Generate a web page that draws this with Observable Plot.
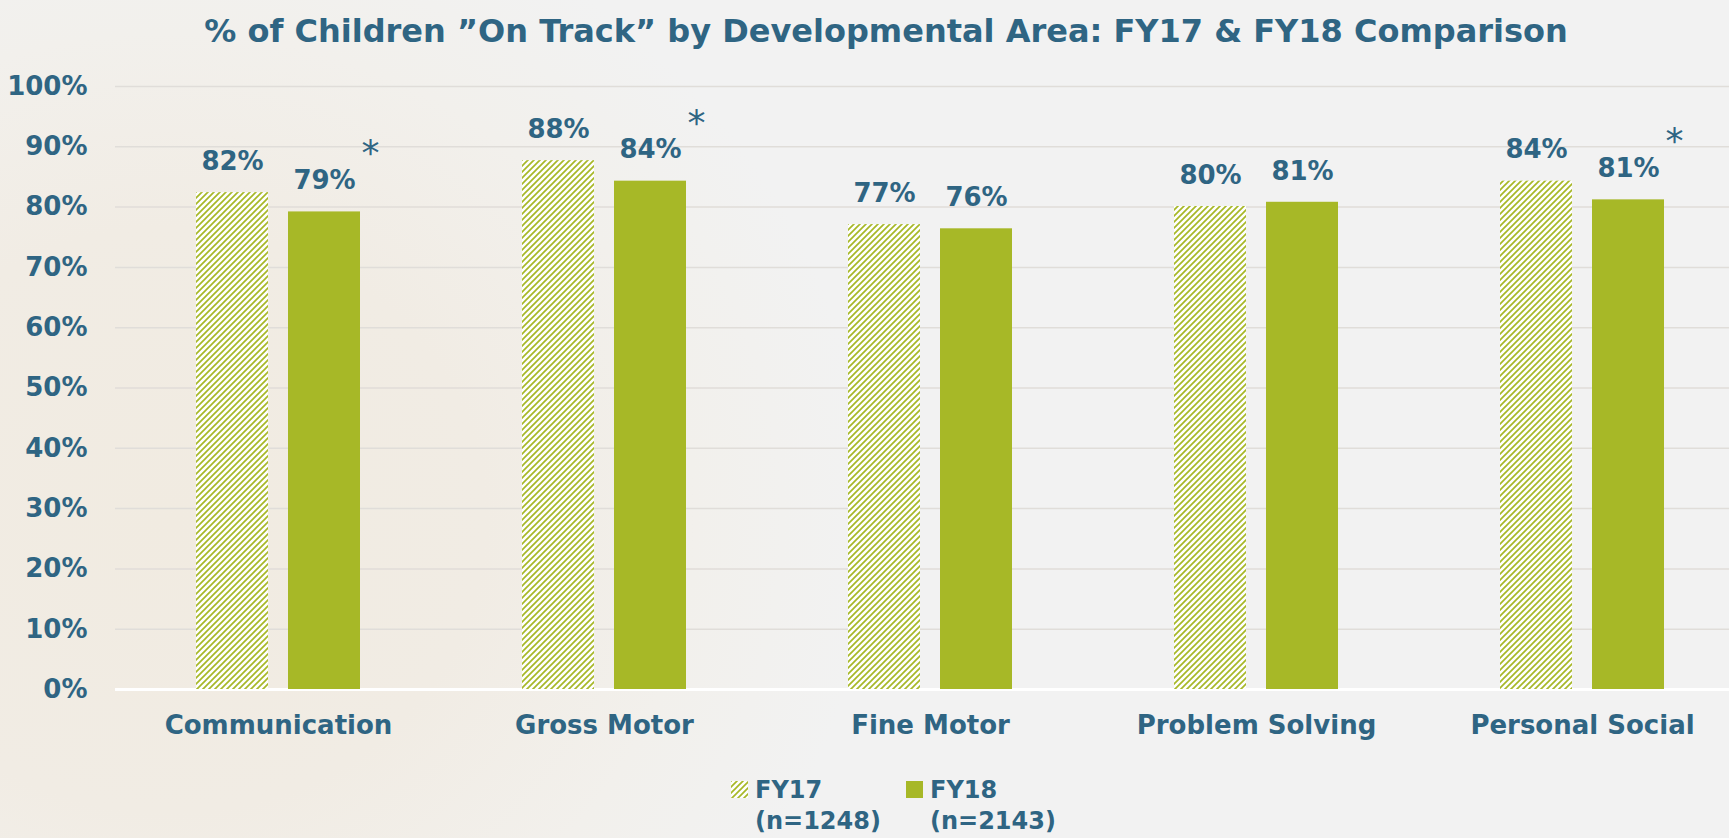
<!DOCTYPE html>
<html>
<head>
<meta charset="utf-8">
<script src="https://cdn.jsdelivr.net/npm/d3@7"></script>
<script src="https://cdn.jsdelivr.net/npm/@observablehq/plot@0.6"></script>
<style>
  html, body { margin: 0; padding: 0; }
  body {
    width: 1729px; height: 838px; overflow: hidden; position: relative;
    background: radial-gradient(ellipse 700px 650px at 170px 520px, #f1ebe1 0%, #f1ece4 45%, #f2f0ec 75%, #f2f2f2 100%);
    background-color: #f2f2f2;
    font-family: "DejaVu Sans", sans-serif;
    color: #2f6583;
  }
  #title {
    position: absolute; top: 0; left: 0; width: 1729px; height: 62px;
    box-sizing: border-box; padding-left: 43px;
    text-align: center; line-height: 62px; font-size: 32px; font-weight: bold;
  }
  #chart { position: absolute; top: 62px; left: 0; }
  .leg { position: absolute; top: 775px; font-size: 24px; font-weight: bold; line-height: 31px; }
  .sw { position: absolute; top: 781px; width: 17px; height: 17px; }
</style>
</head>
<body>
<div id="title"></div>
<div id="chart"></div>
<div id="legend"></div>
<script>
const categories = ["Communication", "Gross Motor", "Fine Motor", "Problem Solving", "Personal Social"];
const fy17Values = [82.4, 87.7, 77.1, 80.1, 84.3];
const fy18Values = [79.2, 84.3, 76.4, 80.8, 81.2];
const fy18Significant = [true, true, false, false, true];
const yTicks = [0, 10, 20, 30, 40, 50, 60, 70, 80, 90, 100];
const seriesNames = ["FY17", "FY18"];
const sampleSizes = [1248, 2143];
const titleText = "% of Children \u201DOn Track\u201D by Developmental Area: FY17 & FY18 Comparison";

const teal = "#2f6583";
const green = "#a7b827";

document.getElementById("title").textContent = titleText;

const d17 = categories.map((c, i) => ({category: c, value: fy17Values[i]}));
const d18 = categories.map((c, i) => ({category: c, value: fy18Values[i], sig: fy18Significant[i]}));

const patternDef = `<pattern id="fy17stripes" patternUnits="userSpaceOnUse" width="6" height="6">
  <rect width="6" height="6" fill="#ffffff"/>
  <path d="M-1,1 l2,-2 M0,6 l6,-6 M5,7 l2,-2" stroke="${green}" stroke-width="1.7"/>
</pattern>`;

const plot = Plot.plot({
  width: 1729,
  height: 708,
  marginTop: 24,
  marginBottom: 81,
  marginLeft: 115,
  marginRight: 0,
  style: {background: "transparent", fontFamily: "DejaVu Sans, sans-serif", fontSize: "26px", fontWeight: "bold", color: teal, overflow: "visible"},
  x: {domain: categories, range: [115, 1746], paddingInner: 0.779, paddingOuter: 0.39, label: null, tickSize: 0, tickPadding: 26},
  y: {domain: [0, 100], ticks: yTicks, tickFormat: d => d + "%", label: null, tickSize: 0, tickPadding: 28},
  marks: [
    Plot.ruleY(yTicks.filter(d => d > 0), {stroke: "#e0ddd9", strokeWidth: 1.5}),
    Plot.ruleY([0], {stroke: "#ffffff", strokeWidth: 3}),
    Plot.barY(d17, {x: "category", y: "value", fill: "url(#fy17stripes)", dx: -46}),
    Plot.barY(d18, {x: "category", y: "value", fill: green, dx: 46}),
    Plot.text(d17, {x: "category", y: "value", text: d => Math.round(d.value) + "%", dx: -46, dy: -31, fontSize: 26, fontWeight: "bold", fill: teal}),
    Plot.text(d18, {x: "category", y: "value", text: d => Math.round(d.value) + "%", dx: 46, dy: -31, fontSize: 26, fontWeight: "bold", fill: teal}),
    Plot.text(d18.filter(d => d.sig), {x: "category", y: "value", text: () => "*", dx: 92, dy: -58, fontSize: 36, fontWeight: "normal", fill: teal})
  ]
});
d3.select(plot).insert("defs", ":first-child").html(patternDef);
document.getElementById("chart").appendChild(plot);

// legend
const legend = document.getElementById("legend");
const swLeft = [731, 906];
const txtLeft = [755, 930];
seriesNames.forEach((s, i) => {
  const sw = document.createElementNS("http://www.w3.org/2000/svg", "svg");
  sw.setAttribute("class", "sw");
  sw.setAttribute("width", 17); sw.setAttribute("height", 17);
  sw.style.left = swLeft[i] + "px";
  if (i === 0) {
    sw.innerHTML = `<defs>${patternDef.replace('id="fy17stripes"', 'id="legstripes"')}</defs><rect width="17" height="17" fill="url(#legstripes)"/>`;
  } else {
    sw.innerHTML = `<rect width="17" height="17" fill="${green}"/>`;
  }
  legend.appendChild(sw);
  const t = document.createElement("div");
  t.className = "leg";
  t.style.left = txtLeft[i] + "px";
  t.innerHTML = `${s}<br>(n=${sampleSizes[i]})`;
  legend.appendChild(t);
});
</script>
</body>
</html>
